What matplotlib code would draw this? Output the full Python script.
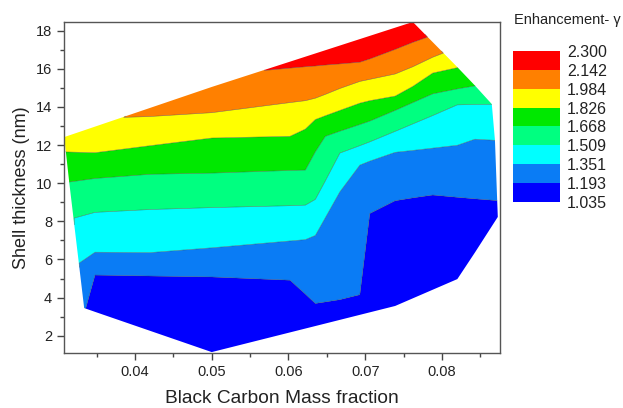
import numpy as np
import matplotlib
matplotlib.use('Agg')
import matplotlib.pyplot as plt
import matplotlib.tri as mtri

plt.rcParams['font.family'] = ['Liberation Sans', 'DejaVu Sans']

# contour levels and band colours (legend)
levels = [1.035, 1.193, 1.351, 1.509, 1.668, 1.826, 1.984, 2.142, 2.300]
band_colors = ['#0000FF', '#0A7CF5', '#00FFFF', '#00FF80',
               '#00E800', '#FFFF00', '#FF8000', '#FF0000']

# scattered data: BC mass fraction, shell thickness (nm), enhancement
bc_frac = [
    0.03078, 0.03104, 0.03143, 0.03208, 0.03273, 0.03338,                      # left edge
    0.0348, 0.0348, 0.0348, 0.0348, 0.0348, 0.0348, 0.0348,
    0.0420, 0.0420, 0.0420, 0.0420, 0.0420, 0.0420, 0.0420, 0.0420,
    0.0500, 0.0500, 0.0500, 0.0500, 0.0500, 0.0500, 0.0500, 0.0500,
    0.0602, 0.0602, 0.0602, 0.0602, 0.0602, 0.0602, 0.0602, 0.0602, 0.0602,
    0.0622, 0.0622, 0.0622, 0.0622, 0.0622, 0.0622, 0.0622, 0.0622, 0.0622,
    0.0635, 0.0635, 0.0635, 0.0635, 0.0635, 0.0635, 0.0635, 0.0635, 0.0635,
    0.0648, 0.0648, 0.0648, 0.0648, 0.0648, 0.0648, 0.0648, 0.0648, 0.0648,
    0.0667, 0.0667, 0.0667, 0.0667, 0.0667, 0.0667, 0.0667, 0.0667, 0.0667,
    0.0693, 0.0693, 0.0693, 0.0693, 0.0693, 0.0693, 0.0693, 0.0693, 0.0693,
    0.0706, 0.0706, 0.0706, 0.0706, 0.0706, 0.0706, 0.0706, 0.0706, 0.0706,
    0.0739, 0.0739, 0.0739, 0.0739, 0.0739, 0.0739, 0.0739, 0.0739, 0.0739,
    0.0762, 0.0762, 0.0762, 0.0762, 0.0762, 0.0762, 0.0762, 0.0762, 0.0762,
    0.0788, 0.0788, 0.0788, 0.0788, 0.0788, 0.0788, 0.0788, 0.0788,
    0.0820, 0.0820, 0.0820, 0.0820, 0.0820, 0.0820,
    0.0843, 0.0843, 0.0843, 0.0843, 0.0843,
    0.08727, 0.0871, 0.0869, 0.08649,                                           # right edge
]
shell_nm = [
    12.42, 11.64, 10.06, 8.17, 5.81, 3.45,
    3.25, 5.18, 6.38, 8.47, 10.25, 11.60, 12.96,
    2.26, 5.13, 6.36, 8.62, 10.47, 11.97, 13.50, 13.91,
    1.14, 5.08, 6.61, 8.72, 10.53, 12.37, 13.70, 15.05,
    2.18, 4.91, 6.97, 8.82, 10.67, 12.46, 14.23, 16.04, 16.33,
    2.38, 4.18, 7.04, 8.85, 10.69, 12.84, 14.33, 16.11, 16.59,
    2.52, 3.69, 7.26, 9.15, 11.65, 13.34, 14.46, 16.15, 16.76,
    2.65, 3.77, 8.19, 10.12, 12.46, 13.54, 14.66, 16.20, 16.94,
    2.85, 3.89, 9.55, 11.58, 12.73, 13.82, 14.97, 16.26, 17.19,
    3.11, 4.15, 10.95, 11.97, 13.08, 14.20, 15.34, 16.35, 17.54,
    3.24, 8.41, 11.16, 12.17, 13.26, 14.33, 15.45, 16.52, 17.71,
    3.56, 9.08, 11.62, 12.72, 13.82, 14.57, 15.73, 17.02, 18.15,
    3.97, 9.23, 11.72, 13.11, 14.23, 15.08, 16.11, 17.39, 18.46,
    4.42, 9.38, 11.84, 13.55, 14.69, 15.78, 16.61, 17.38,
    4.97, 9.26, 11.99, 14.11, 14.95, 16.09,
    6.37, 9.18, 12.31, 14.13, 15.12,
    8.23, 9.09, 12.25, 14.15,
]
enh = [
    1.90, 1.826, 1.668, 1.509, 1.351, 1.20,
    1.15, 1.193, 1.351, 1.509, 1.668, 1.826, 1.945,
    1.08, 1.193, 1.351, 1.509, 1.668, 1.826, 1.984, 2.02,
    1.06, 1.193, 1.351, 1.509, 1.668, 1.826, 1.984, 2.10,
    1.08, 1.193, 1.351, 1.509, 1.668, 1.826, 1.984, 2.142, 2.162,
    1.10, 1.193, 1.351, 1.509, 1.668, 1.826, 1.984, 2.142, 2.175,
    1.12, 1.193, 1.351, 1.509, 1.668, 1.826, 1.984, 2.142, 2.182,
    1.12, 1.193, 1.351, 1.509, 1.668, 1.826, 1.984, 2.142, 2.190,
    1.13, 1.193, 1.351, 1.509, 1.668, 1.826, 1.984, 2.142, 2.202,
    1.14, 1.193, 1.351, 1.509, 1.668, 1.826, 1.984, 2.142, 2.218,
    1.06, 1.193, 1.351, 1.509, 1.668, 1.826, 1.984, 2.142, 2.226,
    1.06, 1.193, 1.351, 1.509, 1.668, 1.826, 1.984, 2.142, 2.246,
    1.06, 1.193, 1.351, 1.509, 1.668, 1.826, 1.984, 2.142, 2.26,
    1.06, 1.193, 1.351, 1.509, 1.668, 1.826, 1.984, 2.10,
    1.08, 1.193, 1.351, 1.509, 1.668, 1.83,
    1.10, 1.193, 1.351, 1.509, 1.67,
    1.15, 1.193, 1.351, 1.51,
]

x = np.array(bc_frac)
y = np.array(shell_nm)
z = np.array(enh)

# triangulate in roughly isotropic units, then use real coordinates
tri_scaled = mtri.Triangulation(x * 403.0, y)
tri = mtri.Triangulation(x, y, triangles=tri_scaled.triangles)

fig = plt.figure(figsize=(6.23, 4.08), dpi=100)
ax = fig.add_axes([0.1027, 0.1348, 0.6999, 0.8112])

cs = ax.tricontourf(tri, z, levels=levels, colors=band_colors, antialiased=True)
ax.tricontour(tri, z, levels=levels[1:-1], colors='#3a3a3a', linewidths=0.4, alpha=0.6)

ax.set_xlim(0.03075, 0.08756)
ax.set_ylim(1.092, 18.456)
ax.set_xticks([0.04, 0.05, 0.06, 0.07, 0.08])
ax.set_xticklabels(['0.04', '0.05', '0.06', '0.07', '0.08'])
ax.set_xticks([0.035, 0.045, 0.055, 0.065, 0.075, 0.085], minor=True)
ax.set_yticks(range(2, 19, 2))
ax.set_yticks(range(3, 19, 2), minor=True)
ax.tick_params(which='major', direction='out', length=5, width=1, color='#444444',
               labelsize=10.5, labelcolor='#222222')
ax.tick_params(which='minor', direction='out', length=3, width=1, color='#444444')
for s in ax.spines.values():
    s.set_color('#555555')
    s.set_linewidth(1.0)

ax.set_xlabel('Black Carbon Mass fraction', fontsize=13.8, color='#222222', labelpad=8)
ax.set_ylabel('Shell thickness (nm)', fontsize=13, color='#222222', labelpad=4)

# legend as colorbar
cax = fig.add_axes([0.8234, 0.505, 0.0754, 0.370])
cb = fig.colorbar(cs, cax=cax, ticks=levels)
cb.ax.set_yticklabels(['%.3f' % v for v in levels])
cb.outline.set_visible(False)
cb.ax.tick_params(length=0, labelsize=11.5, labelcolor='#222222', pad=5)
fig.text(0.825, 0.951, 'Enhancement- γ', fontsize=10.5, color='#222222', ha='left', va='center')

fig.savefig('out.png', dpi=100)
